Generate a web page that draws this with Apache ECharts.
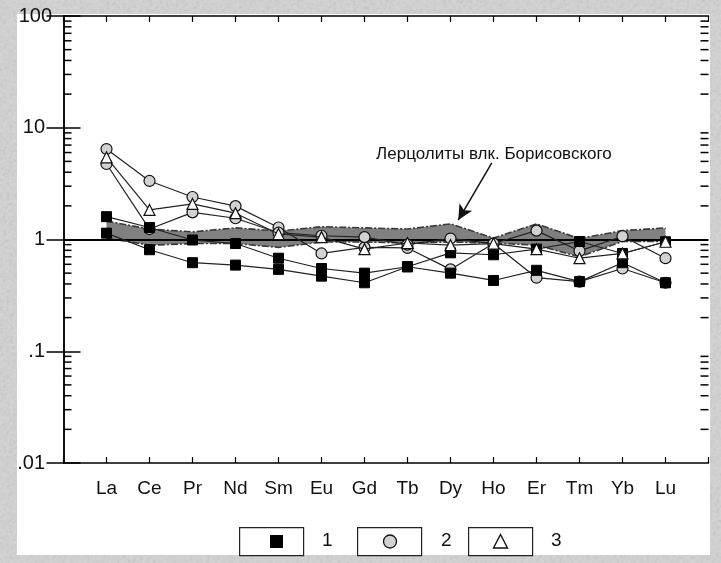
<!DOCTYPE html>
<html>
<head>
<meta charset="utf-8">
<script src="https://cdn.jsdelivr.net/npm/echarts@6/dist/echarts.min.js"></script>
<style>
  html, body { margin: 0; padding: 0; width: 721px; height: 563px; overflow: hidden; background: #d2d2d2; }
  #panel { position: absolute; left: 17px; top: 14px; width: 693px; height: 541px; background: #fff; }
  #chart { position: absolute; left: 0; top: 0; width: 721px; height: 563px; }
</style>
</head>
<body>
<div id="panel"></div>
<div id="chart"></div>
<script>
// REE patterns, chondrite-normalised (log scale)
const elements = ['La', 'Ce', 'Pr', 'Nd', 'Sm', 'Eu', 'Gd', 'Tb', 'Dy', 'Ho', 'Er', 'Tm', 'Yb', 'Lu'];
const yTickLabels = ['.01', '.1', '1', '10', '100'];

// group 1 (filled squares)
const sq1 = [1.60, 1.28, 0.99, 0.92, 0.68, 0.55, 0.50, 0.57, 0.76, 0.73, 0.82, 0.96, 0.75, 0.955];
const sq2 = [1.14, 0.81, 0.62, 0.59, 0.54, 0.47, 0.41, 0.57, 0.50, 0.43, 0.53, 0.42, 0.62, 0.41];
// group 2 (grey circles)
const ci1 = [6.45, 3.34, 2.40, 1.99, 1.28, 0.75, 0.85, 0.84, 0.54, 0.92, 0.455, 0.42, 0.55, 0.41];
const ci2 = [4.74, 1.24, 1.75, 1.55, 1.15, 1.08, 1.05, 0.90, 1.02, 0.92, 1.20, 0.79, 1.07, 0.68];
// group 3 (open triangles)
const tr1 = [5.44, 1.84, 2.08, 1.72, 1.12, 1.05, 0.82, 0.93, 0.89, 0.92, 0.82, 0.68, 0.75, 0.955];

// field of the Borisovsky volcano lherzolites
const fieldUpper = [1.46, 1.24, 1.17, 1.27, 1.19, 1.30, 1.27, 1.24, 1.38, 1.03, 1.38, 1.02, 1.20, 1.27];
const fieldLower = [1.03, 0.89, 0.92, 0.92, 0.85, 0.95, 0.95, 0.93, 0.95, 0.93, 0.89, 0.70, 0.96, 0.96];
const fieldLabel = 'Лерцолиты влк. Борисовского';

const legendNames = ['1', '2', '3'];

const toPoints = vals => vals.map((v, i) => [i + 1, v]);

const FONT = 'Liberation Sans, Arial, sans-serif';

// background texture for the page
(function () {
  const svg = "<svg xmlns='http://www.w3.org/2000/svg' width='721' height='563'>" +
    "<filter id='n'><feTurbulence type='fractalNoise' baseFrequency='0.3' numOctaves='3' seed='7'/>" +
    "<feColorMatrix type='saturate' values='0'/></filter>" +
    "<rect width='721' height='563' fill='#d3d3d3'/>" +
    "<rect width='721' height='563' filter='url(#n)' opacity='0.3'/></svg>";
  document.body.style.backgroundImage = 'url("data:image/svg+xml,' + encodeURIComponent(svg) + '")';
})();

const chart = echarts.init(document.getElementById('chart'), null, { renderer: 'canvas' });

const minorTickData = [];
[0.01, 0.1, 1, 10].forEach(d => { for (let k = 2; k <= 9; k++) minorTickData.push([0, +(k * d).toPrecision(3)]); });

const squareStyle = {
  symbol: 'rect', symbolSize: 10,
  itemStyle: { color: '#000', borderColor: '#000', borderWidth: 1 },
  lineStyle: { color: '#222', width: 1.2 }
};
const circleStyle = {
  symbol: 'circle', symbolSize: 11,
  itemStyle: { color: '#d2d2d2', borderColor: '#111', borderWidth: 1.2 },
  lineStyle: { color: '#222', width: 1.2 }
};
const triStyle = {
  symbol: 'triangle', symbolSize: 11,
  itemStyle: { color: '#fff', borderColor: '#111', borderWidth: 1.2 },
  lineStyle: { color: '#222', width: 1.2 }
};

function lineSeries(name, vals, style, z) {
  return Object.assign({
    type: 'line', name: name, data: toPoints(vals), z: z,
    showSymbol: true, animation: false, silent: true
  }, style);
}

const option = {
  animation: false,
  textStyle: { fontFamily: FONT },
  grid: { left: 63.5, right: 12.5, top: 16, bottom: 100, containLabel: false },
  xAxis: [{
    type: 'value', min: 0, max: 15, interval: 1, position: 'bottom',
    axisLine: { lineStyle: { color: '#000', width: 1.5 } },
    axisTick: { inside: true, length: 6, lineStyle: { color: '#000', width: 1.2 } },
    axisLabel: {
      margin: 16, fontSize: 19, color: '#111', fontFamily: FONT,
      formatter: v => elements[v - 1] || ''
    },
    splitLine: { show: false }
  }, {
    type: 'value', min: 0, max: 15, interval: 1, position: 'top',
    axisLine: { lineStyle: { color: '#000', width: 1.5 } },
    axisTick: { inside: true, length: 6, lineStyle: { color: '#000', width: 1.2 } },
    axisLabel: { show: false },
    splitLine: { show: false }
  }],
  yAxis: [{
    type: 'log', logBase: 10, min: 0.01, max: 100, position: 'left',
    axisLine: { lineStyle: { color: '#000', width: 1.5 } },
    axisTick: { inside: true, length: 17, lineStyle: { color: '#000', width: 1.5 } },
    axisLabel: {
      margin: 11.5, fontSize: 20, color: '#111', fontFamily: FONT, align: 'right',
      formatter: v => {
        const t = yTickLabels[Math.round(Math.log10(v)) + 2];
        return t === '100' ? '{a|' + t + '}' : '{b|' + t + '}';
      },
      rich: {
        a: { fontSize: 20, color: '#111', fontFamily: FONT },
        b: { fontSize: 20, color: '#111', fontFamily: FONT, padding: [0, 7, 0, 0] }
      }
    },
    splitLine: { show: false }
  }, {
    type: 'log', logBase: 10, min: 0.01, max: 100, position: 'right',
    axisLine: { lineStyle: { color: '#000', width: 1.5 } },
    axisTick: { inside: true, length: 17, lineStyle: { color: '#000', width: 1.5 } },
    axisLabel: { show: false },
    splitLine: { show: false }
  }],
  series: [
    // minor ticks of the log axes (2..9 within each decade)
    {
      type: 'custom', silent: true, z: 3, clip: false,
      data: minorTickData,
      renderItem: (params, api) => {
        const v = api.value(1);
        const pL = api.coord([0, v]);
        const pR = api.coord([15, v]);
        const st = { stroke: '#000', lineWidth: 1.5 };
        return {
          type: 'group', children: [
            { type: 'line', shape: { x1: pL[0], y1: pL[1], x2: pL[0] + 8, y2: pL[1] }, style: st },
            { type: 'line', shape: { x1: pR[0] - 8, y1: pR[1], x2: pR[0], y2: pR[1] }, style: st }
          ]
        };
      }
    },
    // lherzolite field
    {
      type: 'custom', silent: true, z: 1,
      data: [[1, 1]],
      renderItem: (params, api) => {
        const up = fieldUpper.map((v, i) => api.coord([i + 1, v]));
        const lo = fieldLower.map((v, i) => api.coord([i + 1, v]));
        const edge = { stroke: '#3a3a3a', lineWidth: 1.6, lineDash: [7, 2, 2, 2], fill: null };
        return {
          type: 'group', children: [
            { type: 'polygon', shape: { points: up.concat(lo.slice().reverse()) }, style: { fill: '#808080' } },
            { type: 'polyline', shape: { points: up }, style: edge },
            { type: 'polyline', shape: { points: lo }, style: edge }
          ]
        };
      }
    },
    lineSeries('2', ci1, circleStyle, 5),
    lineSeries('2', ci2, circleStyle, 5),
    Object.assign(lineSeries('1', sq1, squareStyle, 6), {
      markLine: {
        silent: true, symbol: 'none', animation: false,
        label: { show: false },
        lineStyle: { color: '#000', width: 2, type: 'solid' },
        data: [{ yAxis: 1 }]
      }
    }),
    lineSeries('1', sq2, squareStyle, 6),
    Object.assign(lineSeries('3', tr1, triStyle, 7), {
      markPoint: {
        silent: true, symbol: 'circle', symbolSize: 0, animation: false,
        label: {
          show: true, position: 'right', distance: 0, formatter: fieldLabel,
          fontSize: 17, color: '#111', fontFamily: FONT
        },
        data: [{ coord: [7.27, 5.8] }]
      },
      markLine: {
        silent: true, animation: false, symbol: ['none', 'arrow'], symbolSize: [11, 15],
        label: { show: false },
        lineStyle: { color: '#111', width: 1.5, type: 'solid' },
        data: [[{ coord: [9.96, 4.84] }, { coord: [9.18, 1.494] }]]
      }
    })
  ],
  graphic: [
    // legend boxes
    { type: 'rect', left: 239, top: 527, shape: { width: 64, height: 28 }, style: { fill: '#fff', stroke: '#222', lineWidth: 1.2 }, z: 10 },
    { type: 'rect', left: 270, top: 535, shape: { width: 13, height: 13 }, style: { fill: '#000' }, z: 11 },
    { type: 'text', left: 322, top: 531, style: { text: legendNames[0], fontSize: 19, fill: '#111', fontFamily: FONT }, z: 11 },
    { type: 'rect', left: 357, top: 527, shape: { width: 64, height: 28 }, style: { fill: '#fff', stroke: '#222', lineWidth: 1.2 }, z: 10 },
    { type: 'circle', shape: { cx: 390, cy: 541.5, r: 6.5 }, style: { fill: '#d2d2d2', stroke: '#111', lineWidth: 1.3 }, z: 11 },
    { type: 'text', left: 441, top: 531, style: { text: legendNames[1], fontSize: 19, fill: '#111', fontFamily: FONT }, z: 11 },
    { type: 'rect', left: 468, top: 527, shape: { width: 64, height: 28 }, style: { fill: '#fff', stroke: '#222', lineWidth: 1.2 }, z: 10 },
    { type: 'polygon', shape: { points: [[500.5, 534.5], [507.5, 548], [493.5, 548]] }, style: { fill: '#fff', stroke: '#111', lineWidth: 1.4 }, z: 11 },
    { type: 'text', left: 551, top: 531, style: { text: legendNames[2], fontSize: 19, fill: '#111', fontFamily: FONT }, z: 11 }
  ]
};

chart.setOption(option);
</script>
</body>
</html>
